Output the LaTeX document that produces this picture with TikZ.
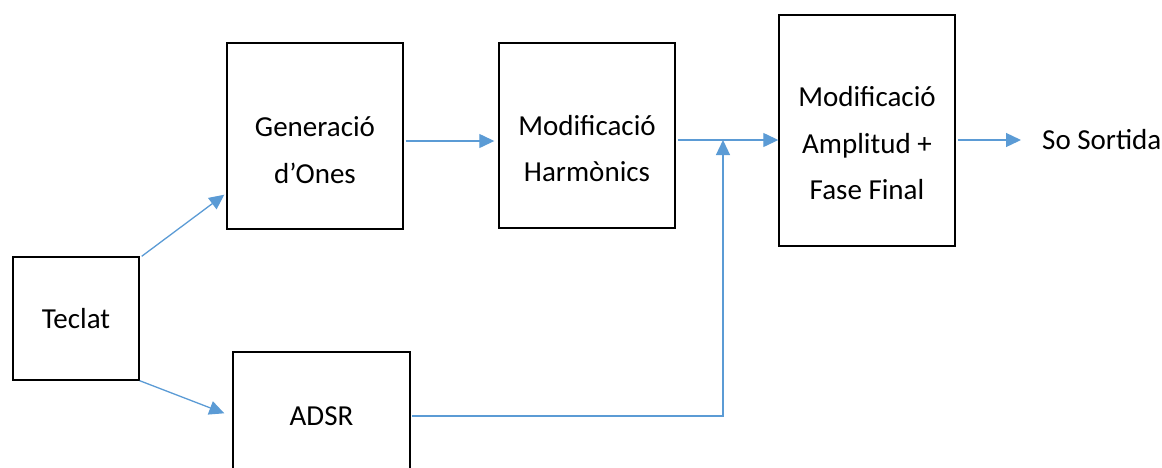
\documentclass[tikz,border=0pt]{standalone}
\usepackage{fontspec}
\setmainfont{Carlito}
\usetikzlibrary{arrows.meta}
\definecolor{lineblue}{HTML}{5B9BD5}
\begin{document}
\begin{tikzpicture}[x=1pt,y=-1pt,
  box/.style={draw=black,line width=1.4pt,inner sep=0pt},
  txt/.style={inner sep=0pt,align=center,font=\fontsize{29}{46.5}\selectfont},
  arr/.style={draw=lineblue,line width=1.3pt,-{Triangle[length=15pt,width=14pt]}}]
\useasboundingbox (0,0) rectangle (1162,467);
% boxes
\node[box,txt,minimum width=126pt,minimum height=123pt] (teclat) at (76,318.5) {Teclat};
\node[box,minimum width=176pt,minimum height=186pt] (gen) at (315,136) {};
\node[box,minimum width=176pt,minimum height=185pt] (modh) at (587,135.5) {};
\node[box,minimum width=176pt,minimum height=231pt] (amp) at (867,130.5) {};
\node[box,txt,minimum width=177pt,minimum height=128pt] (adsr) at (321.5,416) {ADSR};
% texts
\node[txt] (genT) at (315,150) {Generació\\d’Ones};
\node[txt] (modhT) at (587,148.5) {Modificació\\Harmònics};
\node[txt] (ampT) at (867,143.5) {Modificació\\Amplitud +\\Fase Final};
\node[txt,anchor=west] (out) at (1042,140) {So Sortida};
\coordinate (j) at (723,140);
% connectors
\draw[arr] ([xshift=2pt]teclat.north east) -- ([xshift=-2pt,yshift=35pt]gen.south west);
\draw[arr] (teclat.south east) -- ([xshift=-8pt,yshift=-62pt]adsr.north west);
\draw[arr] ([xshift=2pt,yshift=-5pt]gen.east) -- ([xshift=-4pt,yshift=-5.5pt]modh.west);
\draw[arr] ([xshift=2pt,yshift=-4.5pt]modh.east) -- ([yshift=-9.5pt]amp.west);
\draw[arr] ([xshift=1pt]adsr.east) -| (j);
\draw[arr] ([xshift=2pt,yshift=-9.5pt]amp.east) -- ([xshift=-21pt]out.west);
\end{tikzpicture}
\end{document}
